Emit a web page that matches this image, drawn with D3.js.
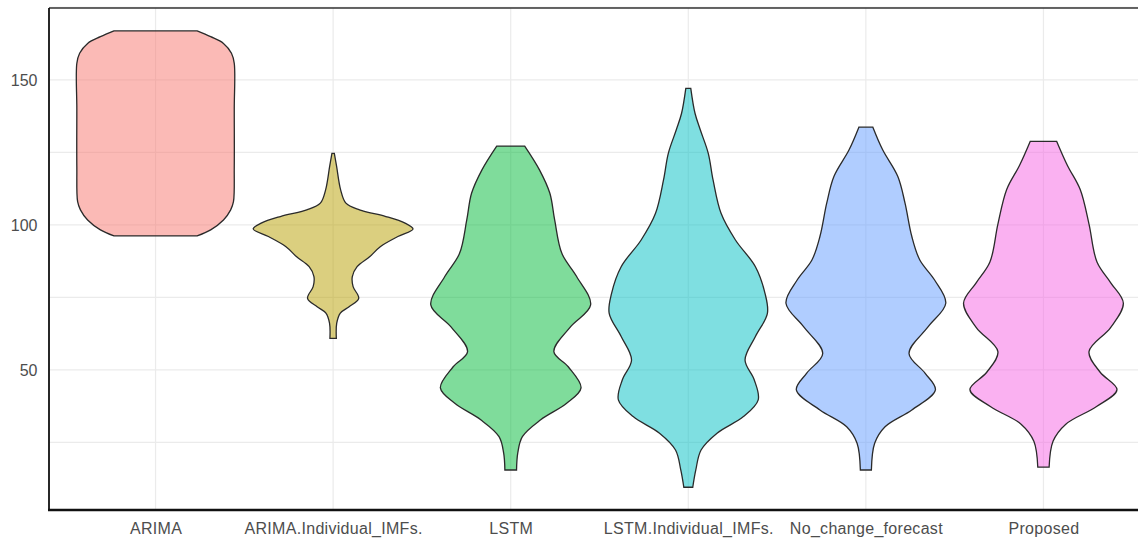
<!DOCTYPE html>
<html>
<head>
<meta charset="utf-8">
<script src="https://cdn.jsdelivr.net/npm/d3@7"></script>
<style>
  body { margin: 0; background: #fff; }
  text { font-family: "Liberation Sans", Arial, sans-serif; }
</style>
</head>
<body>
<svg id="violin"></svg>
<script>
// categories and their ggplot hue colours
const categories = ["ARIMA", "ARIMA.Individual_IMFs.", "LSTM", "LSTM.Individual_IMFs.", "No_change_forecast", "Proposed"];
const colors = ["#F8766D", "#B79F00", "#00BA38", "#00BFC4", "#619CFF", "#F564E3"];

// violin outlines: value (y) and relative density (1 = widest)
const arimaValues   = [96.2, 98.3, 101.7, 105.2, 108, 120, 140, 155.7, 159.2, 162.6, 164.9, 166.9];
const arimaDensity  = [0.52, 0.69, 0.85, 0.94, 0.975, 0.985, 0.985, 0.985, 0.95, 0.85, 0.69, 0.52];

const arimaImfValues  = [60.9, 66.1, 69.6, 71.8, 74.7, 78.7, 82.2, 85.6, 89.1, 92.5, 96, 98.6, 100.6, 102.9, 105.2, 107.5, 112.1, 120.1, 124.7];
const arimaImfDensity = [0.04, 0.045, 0.09, 0.2, 0.32, 0.25, 0.24, 0.3, 0.46, 0.59, 0.81, 1.0, 0.9, 0.66, 0.33, 0.16, 0.094, 0.044, 0.015];

const lstmValues  = [15.5, 21.3, 27, 32.8, 38.5, 43.8, 51.1, 56.3, 64.9, 72.4, 82.2, 90.2, 101.7, 110.9, 119, 127.2];
const lstmDensity = [0.073, 0.088, 0.146, 0.375, 0.7, 0.88, 0.72, 0.54, 0.75, 1.0, 0.825, 0.64, 0.55, 0.49, 0.36, 0.175];

const lstmImfValues  = [9.55, 15.5, 22.4, 28.2, 33.9, 39.7, 46.6, 53.4, 61.5, 69.5, 76.4, 85.6, 94.8, 104, 115.5, 124.7, 132.8, 138.5, 147.1];
const lstmImfDensity = [0.056, 0.094, 0.16, 0.36, 0.69, 0.875, 0.825, 0.71, 0.84, 0.99, 0.96, 0.84, 0.59, 0.41, 0.31, 0.25, 0.15, 0.084, 0.031];

const noChangeValues  = [15.5, 24.7, 30.4, 36.2, 43.1, 48.9, 55.7, 64.9, 73, 81, 87.9, 96, 107.5, 116.7, 125.9, 133.7];
const noChangeDensity = [0.069, 0.11, 0.24, 0.575, 0.87, 0.74, 0.54, 0.78, 1.0, 0.86, 0.675, 0.575, 0.49, 0.4, 0.21, 0.0875];

const proposedValues  = [16.5, 25.4, 31.3, 37.3, 43.2, 49.2, 56.3, 64.6, 73, 80.1, 87.2, 100.3, 112.2, 120.5, 128.8];
const proposedDensity = [0.071, 0.12, 0.28, 0.66, 0.92, 0.71, 0.57, 0.84, 1.0, 0.84, 0.67, 0.57, 0.46, 0.3, 0.166];

const yTicks = [50, 100, 150];
const yGrid = [25, 50, 75, 100, 125, 150, 175];

const profiles = [
    [arimaValues, arimaDensity],
    [arimaImfValues, arimaImfDensity],
    [lstmValues, lstmDensity],
    [lstmImfValues, lstmImfDensity],
    [noChangeValues, noChangeDensity],
    [proposedValues, proposedDensity]
];

const width = 1138;
const height = 540;
const panel = { left: 49, top: 8, right: 1150, bottom: 510 };

const svg = d3.select("#violin")
    .attr("width", width)
    .attr("height", height);

// ggplot discrete scale: 0.6 units of padding each side, panel runs past the picture
const step = (panel.right - panel.left) / (categories.length - 1 + 1.2);
const scaleX = d3.scalePoint()
    .domain(categories)
    .range([panel.left + 0.6 * step, panel.right - 0.6 * step]);

const scaleY = d3.scaleLinear()
    .domain([1.7, 174.8])
    .range([panel.bottom, panel.top]);

const scaleW = d3.scaleLinear()
    .domain([0, 1])
    .range([0, step * 0.45]);

// grid
const grid = svg.append("g");
grid.selectAll(".hgrid")
    .data(yGrid)
    .enter()
    .append("line")
    .attr("x1", panel.left)
    .attr("x2", width)
    .attr("y1", d => scaleY(d))
    .attr("y2", d => scaleY(d))
    .attr("stroke", "#ebebeb")
    .attr("stroke-width", 1.2);

grid.selectAll(".vgrid")
    .data(categories)
    .enter()
    .append("line")
    .attr("x1", d => scaleX(d))
    .attr("x2", d => scaleX(d))
    .attr("y1", panel.top)
    .attr("y2", panel.bottom)
    .attr("stroke", "#ebebeb")
    .attr("stroke-width", 1.2);

// violins
categories.forEach((cat, i) => {
    const [vals, dens] = profiles[i];
    const pts = vals.map((v, j) => ({ v: v, d: dens[j] }));
    const cx = scaleX(cat);

    const area = d3.area()
        .y(d => scaleY(d.v))
        .x0(d => cx - scaleW(d.d))
        .x1(d => cx + scaleW(d.d))
        .curve(d3.curveCatmullRom.alpha(0.5));

    svg.append("path")
        .datum(pts)
        .attr("d", area)
        .attr("fill", colors[i])
        .attr("fill-opacity", 0.5)
        .attr("stroke", "#2a2a2a")
        .attr("stroke-width", 1.3);
});

// axes
const gY = svg.append("g")
    .attr("transform", `translate(${panel.left}, 0)`)
    .call(d3.axisLeft(scaleY).tickValues(yTicks).tickSize(0).tickPadding(11.5));
gY.select(".domain").remove();
gY.selectAll("text")
    .attr("fill", "#4d4d4d")
    .style("font-size", "16px");

const gX = svg.append("g")
    .attr("transform", `translate(0, ${panel.bottom})`)
    .call(d3.axisBottom(scaleX).tickSize(0).tickPadding(13));
gX.select(".domain").remove();
gX.selectAll("text")
    .attr("fill", "#4d4d4d")
    .style("font-size", "16px")
    .style("letter-spacing", "0.3px");

// frame lines
svg.append("line")
    .attr("x1", panel.left).attr("x2", width)
    .attr("y1", panel.top).attr("y2", panel.top)
    .attr("stroke", "#333").attr("stroke-width", 1.3);
svg.append("line")
    .attr("x1", panel.left).attr("x2", panel.left)
    .attr("y1", panel.top).attr("y2", panel.bottom)
    .attr("stroke", "#111").attr("stroke-width", 1.8);
svg.append("line")
    .attr("x1", panel.left - 1).attr("x2", width)
    .attr("y1", panel.bottom).attr("y2", panel.bottom)
    .attr("stroke", "#111").attr("stroke-width", 2.5);
</script>
</body>
</html>
